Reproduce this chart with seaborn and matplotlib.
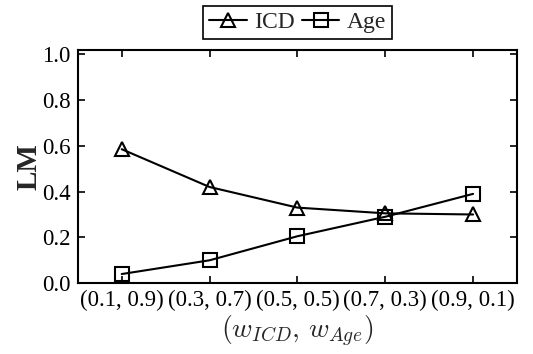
import matplotlib
matplotlib.use("Agg")
import matplotlib.pyplot as plt
import seaborn as sns
import pandas as pd

categories = ["(0.1, 0.9)", "(0.3, 0.7)", "(0.5, 0.5)", "(0.7, 0.3)", "(0.9, 0.1)"]
icd = [0.585, 0.42, 0.33, 0.305, 0.30]
age = [0.04, 0.10, 0.205, 0.29, 0.39]

sns.set_theme(style="ticks")
plt.rcParams["font.family"] = ["Liberation Serif", "DejaVu Serif"]
plt.rcParams["mathtext.fontset"] = "cm"

df = pd.DataFrame({
    "x": list(range(len(categories))) * 2,
    "LM": icd + age,
    "series": ["ICD"] * len(icd) + ["Age"] * len(age),
})

fig, ax = plt.subplots(figsize=(5.33, 3.54), dpi=100)
sns.lineplot(data=df, x="x", y="LM", hue="series", style="series",
             markers={"ICD": "^", "Age": "s"}, dashes=False,
             palette={"ICD": "black", "Age": "black"},
             markersize=10, markerfacecolor="none", markeredgecolor="black",
             markeredgewidth=1.5, linewidth=1.5, ax=ax)

ax.set_xlim(-0.5, 4.5)
ax.set_ylim(0, 1.02)
ax.set_xticks(range(len(categories)))
ax.set_xticklabels(categories)
ax.set_yticks([0.0, 0.2, 0.4, 0.6, 0.8, 1.0])
ax.set_yticklabels(["0.0", "0.2", "0.4", "0.6", "0.8", "1.0"])
ax.tick_params(direction="in", top=True, right=True, labelsize=16.5, length=5, width=1.2,
               colors="black", pad=5)
for s in ax.spines.values():
    s.set_linewidth(1.5)
    s.set_color("black")
ax.set_xlabel(r"$(w_{ICD},\, w_{Age})$", fontsize=20, labelpad=2)
ax.set_ylabel("LM", fontsize=21, fontweight="bold", labelpad=0)

handles, labels = ax.get_legend_handles_labels()
leg = ax.legend(handles, labels, loc="lower center", bbox_to_anchor=(0.5, 1.0),
                ncol=2, frameon=True, fancybox=False, framealpha=1, fontsize=17,
                handlelength=1.6, handletextpad=0.3, columnspacing=0.3,
                borderpad=0.25, borderaxespad=0.45)
leg.get_frame().set_edgecolor("black")
leg.get_frame().set_linewidth(1.2)

fig.subplots_adjust(left=0.146, right=0.97, top=0.86, bottom=0.2)
fig.savefig("out.png", dpi=100)
